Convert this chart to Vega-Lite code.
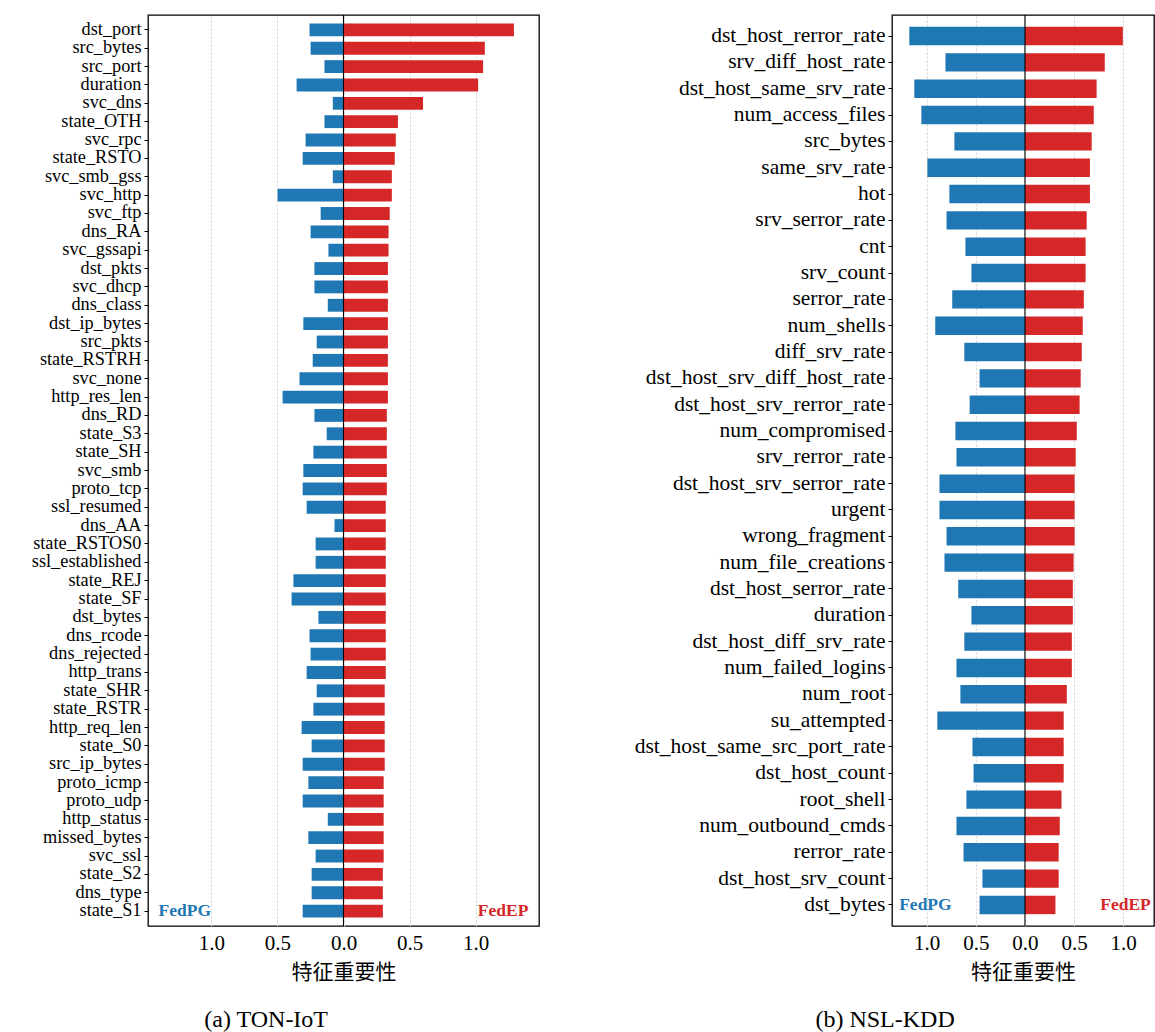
{
  "$schema": "https://vega.github.io/schema/vega-lite/v6.json",
  "padding": {"left": 30, "top": 13, "right": 0, "bottom": 0},
  "autosize": {"type": "pad"},
  "background": "#ffffff",
  "spacing": 93,
  "config": {
    "font": "Liberation Serif",
    "view": {"stroke": "#000000", "strokeWidth": 1.3}
  },
  "datasets": {
    "ton": [
      {"feature": "dst_port", "method": "FedEP", "value": 1.29}, {"feature": "dst_port", "method": "FedPG", "value": -0.257},
      {"feature": "src_bytes", "method": "FedEP", "value": 1.07}, {"feature": "src_bytes", "method": "FedPG", "value": -0.249},
      {"feature": "src_port", "method": "FedEP", "value": 1.057}, {"feature": "src_port", "method": "FedPG", "value": -0.144},
      {"feature": "duration", "method": "FedEP", "value": 1.019}, {"feature": "duration", "method": "FedPG", "value": -0.355},
      {"feature": "svc_dns", "method": "FedEP", "value": 0.602}, {"feature": "svc_dns", "method": "FedPG", "value": -0.081},
      {"feature": "state_OTH", "method": "FedEP", "value": 0.412}, {"feature": "state_OTH", "method": "FedPG", "value": -0.144},
      {"feature": "svc_rpc", "method": "FedEP", "value": 0.396}, {"feature": "svc_rpc", "method": "FedPG", "value": -0.287},
      {"feature": "state_RSTO", "method": "FedEP", "value": 0.388}, {"feature": "state_RSTO", "method": "FedPG", "value": -0.309},
      {"feature": "svc_smb_gss", "method": "FedEP", "value": 0.366}, {"feature": "svc_smb_gss", "method": "FedPG", "value": -0.081},
      {"feature": "svc_http", "method": "FedEP", "value": 0.366}, {"feature": "svc_http", "method": "FedPG", "value": -0.499},
      {"feature": "svc_ftp", "method": "FedEP", "value": 0.35}, {"feature": "svc_ftp", "method": "FedPG", "value": -0.173},
      {"feature": "dns_RA", "method": "FedEP", "value": 0.341}, {"feature": "dns_RA", "method": "FedPG", "value": -0.249},
      {"feature": "svc_gssapi", "method": "FedEP", "value": 0.341}, {"feature": "svc_gssapi", "method": "FedPG", "value": -0.114},
      {"feature": "dst_pkts", "method": "FedEP", "value": 0.336}, {"feature": "dst_pkts", "method": "FedPG", "value": -0.22},
      {"feature": "svc_dhcp", "method": "FedEP", "value": 0.336}, {"feature": "svc_dhcp", "method": "FedPG", "value": -0.22},
      {"feature": "dns_class", "method": "FedEP", "value": 0.336}, {"feature": "dns_class", "method": "FedPG", "value": -0.119},
      {"feature": "dst_ip_bytes", "method": "FedEP", "value": 0.336}, {"feature": "dst_ip_bytes", "method": "FedPG", "value": -0.304},
      {"feature": "src_pkts", "method": "FedEP", "value": 0.336}, {"feature": "src_pkts", "method": "FedPG", "value": -0.203},
      {"feature": "state_RSTRH", "method": "FedEP", "value": 0.336}, {"feature": "state_RSTRH", "method": "FedPG", "value": -0.233},
      {"feature": "svc_none", "method": "FedEP", "value": 0.336}, {"feature": "svc_none", "method": "FedPG", "value": -0.333},
      {"feature": "http_res_len", "method": "FedEP", "value": 0.336}, {"feature": "http_res_len", "method": "FedPG", "value": -0.461},
      {"feature": "dns_RD", "method": "FedEP", "value": 0.328}, {"feature": "dns_RD", "method": "FedPG", "value": -0.22},
      {"feature": "state_S3", "method": "FedEP", "value": 0.328}, {"feature": "state_S3", "method": "FedPG", "value": -0.127},
      {"feature": "state_SH", "method": "FedEP", "value": 0.328}, {"feature": "state_SH", "method": "FedPG", "value": -0.228},
      {"feature": "svc_smb", "method": "FedEP", "value": 0.328}, {"feature": "svc_smb", "method": "FedPG", "value": -0.304},
      {"feature": "proto_tcp", "method": "FedEP", "value": 0.328}, {"feature": "proto_tcp", "method": "FedPG", "value": -0.309},
      {"feature": "ssl_resumed", "method": "FedEP", "value": 0.32}, {"feature": "ssl_resumed", "method": "FedPG", "value": -0.279},
      {"feature": "dns_AA", "method": "FedEP", "value": 0.32}, {"feature": "dns_AA", "method": "FedPG", "value": -0.068},
      {"feature": "state_RSTOS0", "method": "FedEP", "value": 0.32}, {"feature": "state_RSTOS0", "method": "FedPG", "value": -0.211},
      {"feature": "ssl_established", "method": "FedEP", "value": 0.32}, {"feature": "ssl_established", "method": "FedPG", "value": -0.211},
      {"feature": "state_REJ", "method": "FedEP", "value": 0.32}, {"feature": "state_REJ", "method": "FedPG", "value": -0.379},
      {"feature": "state_SF", "method": "FedEP", "value": 0.32}, {"feature": "state_SF", "method": "FedPG", "value": -0.393},
      {"feature": "dst_bytes", "method": "FedEP", "value": 0.32}, {"feature": "dst_bytes", "method": "FedPG", "value": -0.19},
      {"feature": "dns_rcode", "method": "FedEP", "value": 0.32}, {"feature": "dns_rcode", "method": "FedPG", "value": -0.257},
      {"feature": "dns_rejected", "method": "FedEP", "value": 0.32}, {"feature": "dns_rejected", "method": "FedPG", "value": -0.249},
      {"feature": "http_trans", "method": "FedEP", "value": 0.32}, {"feature": "http_trans", "method": "FedPG", "value": -0.279},
      {"feature": "state_SHR", "method": "FedEP", "value": 0.312}, {"feature": "state_SHR", "method": "FedPG", "value": -0.203},
      {"feature": "state_RSTR", "method": "FedEP", "value": 0.312}, {"feature": "state_RSTR", "method": "FedPG", "value": -0.228},
      {"feature": "http_req_len", "method": "FedEP", "value": 0.312}, {"feature": "http_req_len", "method": "FedPG", "value": -0.317},
      {"feature": "state_S0", "method": "FedEP", "value": 0.312}, {"feature": "state_S0", "method": "FedPG", "value": -0.241},
      {"feature": "src_ip_bytes", "method": "FedEP", "value": 0.312}, {"feature": "src_ip_bytes", "method": "FedPG", "value": -0.309},
      {"feature": "proto_icmp", "method": "FedEP", "value": 0.304}, {"feature": "proto_icmp", "method": "FedPG", "value": -0.266},
      {"feature": "proto_udp", "method": "FedEP", "value": 0.304}, {"feature": "proto_udp", "method": "FedPG", "value": -0.309},
      {"feature": "http_status", "method": "FedEP", "value": 0.304}, {"feature": "http_status", "method": "FedPG", "value": -0.119},
      {"feature": "missed_bytes", "method": "FedEP", "value": 0.304}, {"feature": "missed_bytes", "method": "FedPG", "value": -0.266},
      {"feature": "svc_ssl", "method": "FedEP", "value": 0.304}, {"feature": "svc_ssl", "method": "FedPG", "value": -0.211},
      {"feature": "state_S2", "method": "FedEP", "value": 0.298}, {"feature": "state_S2", "method": "FedPG", "value": -0.241},
      {"feature": "dns_type", "method": "FedEP", "value": 0.298}, {"feature": "dns_type", "method": "FedPG", "value": -0.241},
      {"feature": "state_S1", "method": "FedEP", "value": 0.298}, {"feature": "state_S1", "method": "FedPG", "value": -0.309}
    ],
    "nsl": [
      {"feature": "dst_host_rerror_rate", "method": "FedEP", "value": 0.996}, {"feature": "dst_host_rerror_rate", "method": "FedPG", "value": -1.177},
      {"feature": "srv_diff_host_rate", "method": "FedEP", "value": 0.812}, {"feature": "srv_diff_host_rate", "method": "FedPG", "value": -0.809},
      {"feature": "dst_host_same_srv_rate", "method": "FedEP", "value": 0.729}, {"feature": "dst_host_same_srv_rate", "method": "FedPG", "value": -1.126},
      {"feature": "num_access_files", "method": "FedEP", "value": 0.7}, {"feature": "num_access_files", "method": "FedPG", "value": -1.054},
      {"feature": "src_bytes", "method": "FedEP", "value": 0.679}, {"feature": "src_bytes", "method": "FedPG", "value": -0.718},
      {"feature": "same_srv_rate", "method": "FedEP", "value": 0.661}, {"feature": "same_srv_rate", "method": "FedPG", "value": -0.993},
      {"feature": "hot", "method": "FedEP", "value": 0.661}, {"feature": "hot", "method": "FedPG", "value": -0.769},
      {"feature": "srv_serror_rate", "method": "FedEP", "value": 0.628}, {"feature": "srv_serror_rate", "method": "FedPG", "value": -0.798},
      {"feature": "cnt", "method": "FedEP", "value": 0.617}, {"feature": "cnt", "method": "FedPG", "value": -0.606},
      {"feature": "srv_count", "method": "FedEP", "value": 0.617}, {"feature": "srv_count", "method": "FedPG", "value": -0.545},
      {"feature": "serror_rate", "method": "FedEP", "value": 0.599}, {"feature": "serror_rate", "method": "FedPG", "value": -0.74},
      {"feature": "num_shells", "method": "FedEP", "value": 0.588}, {"feature": "num_shells", "method": "FedPG", "value": -0.913},
      {"feature": "diff_srv_rate", "method": "FedEP", "value": 0.578}, {"feature": "diff_srv_rate", "method": "FedPG", "value": -0.617},
      {"feature": "dst_host_srv_diff_host_rate", "method": "FedEP", "value": 0.567}, {"feature": "dst_host_srv_diff_host_rate", "method": "FedPG", "value": -0.462},
      {"feature": "dst_host_srv_rerror_rate", "method": "FedEP", "value": 0.556}, {"feature": "dst_host_srv_rerror_rate", "method": "FedPG", "value": -0.563},
      {"feature": "num_compromised", "method": "FedEP", "value": 0.527}, {"feature": "num_compromised", "method": "FedPG", "value": -0.708},
      {"feature": "srv_rerror_rate", "method": "FedEP", "value": 0.516}, {"feature": "srv_rerror_rate", "method": "FedPG", "value": -0.697},
      {"feature": "dst_host_srv_serror_rate", "method": "FedEP", "value": 0.505}, {"feature": "dst_host_srv_serror_rate", "method": "FedPG", "value": -0.87},
      {"feature": "urgent", "method": "FedEP", "value": 0.505}, {"feature": "urgent", "method": "FedPG", "value": -0.87},
      {"feature": "wrong_fragment", "method": "FedEP", "value": 0.505}, {"feature": "wrong_fragment", "method": "FedPG", "value": -0.798},
      {"feature": "num_file_creations", "method": "FedEP", "value": 0.495}, {"feature": "num_file_creations", "method": "FedPG", "value": -0.819},
      {"feature": "dst_host_serror_rate", "method": "FedEP", "value": 0.487}, {"feature": "dst_host_serror_rate", "method": "FedPG", "value": -0.679},
      {"feature": "duration", "method": "FedEP", "value": 0.487}, {"feature": "duration", "method": "FedPG", "value": -0.545},
      {"feature": "dst_host_diff_srv_rate", "method": "FedEP", "value": 0.477}, {"feature": "dst_host_diff_srv_rate", "method": "FedPG", "value": -0.617},
      {"feature": "num_failed_logins", "method": "FedEP", "value": 0.477}, {"feature": "num_failed_logins", "method": "FedPG", "value": -0.697},
      {"feature": "num_root", "method": "FedEP", "value": 0.426}, {"feature": "num_root", "method": "FedPG", "value": -0.657},
      {"feature": "su_attempted", "method": "FedEP", "value": 0.394}, {"feature": "su_attempted", "method": "FedPG", "value": -0.892},
      {"feature": "dst_host_same_src_port_rate", "method": "FedEP", "value": 0.394}, {"feature": "dst_host_same_src_port_rate", "method": "FedPG", "value": -0.534},
      {"feature": "dst_host_count", "method": "FedEP", "value": 0.394}, {"feature": "dst_host_count", "method": "FedPG", "value": -0.523},
      {"feature": "root_shell", "method": "FedEP", "value": 0.372}, {"feature": "root_shell", "method": "FedPG", "value": -0.596},
      {"feature": "num_outbound_cmds", "method": "FedEP", "value": 0.354}, {"feature": "num_outbound_cmds", "method": "FedPG", "value": -0.697},
      {"feature": "rerror_rate", "method": "FedEP", "value": 0.343}, {"feature": "rerror_rate", "method": "FedPG", "value": -0.625},
      {"feature": "dst_host_srv_count", "method": "FedEP", "value": 0.343}, {"feature": "dst_host_srv_count", "method": "FedPG", "value": -0.433},
      {"feature": "dst_bytes", "method": "FedEP", "value": 0.31}, {"feature": "dst_bytes", "method": "FedPG", "value": -0.462}
    ]
  },
  "hconcat": [
    {
      "width": 391,
      "height": 911,
      "title": {"text": "(a) TON-IoT", "orient": "bottom", "frame": "bounds", "anchor": "middle", "font": "Liberation Serif", "fontSize": 24, "fontWeight": "normal", "color": "#000000", "offset": 26, "dx": -19},
      "layer": [
        {
          "data": {"name": "ton"},
          "mark": {"type": "bar"},
          "encoding": {
            "y": {"field": "feature", "type": "nominal", "sort": null,
              "scale": {"paddingInner": 0.3, "paddingOuter": 0.46},
              "axis": {"title": null, "labelFontSize": 18.3, "labelFont": "Liberation Serif", "labelColor": "#000000", "tickSize": 4, "tickColor": "#000000", "domain": false, "labelPadding": 3, "grid": false, "labelLimit": 400}},
            "x": {"field": "value", "type": "quantitative",
              "scale": {"domain": [-1.48, 1.48], "nice": false, "zero": false},
              "axis": {"title": "特征重要性", "titleFont": "Noto Sans CJK SC", "titleFontSize": 21, "titleFontWeight": "normal", "titleColor": "#000000", "titlePadding": 8,
                "values": [-1, -0.5, 0, 0.5, 1], "labelExpr": "format(abs(datum.value), '.1f')", "labelFontSize": 21, "labelFont": "Liberation Serif", "labelColor": "#000000",
                "ticks": false, "labelPadding": 6, "grid": true, "gridDash": [2, 2], "gridColor": "#d3d3d3", "domain": false}},
            "color": {"field": "method", "type": "nominal", "scale": {"domain": ["FedPG", "FedEP"], "range": ["#1f77b4", "#d62728"]}, "legend": null}
          }
        },
        {
          "data": {"values": [{}]},
          "mark": {"type": "rule", "color": "#000000", "strokeWidth": 1.1},
          "encoding": {"x": {"datum": 0}}
        },
        {
          "data": {"values": [{}]},
          "mark": {"type": "text", "align": "left", "baseline": "middle", "font": "Liberation Serif", "fontWeight": "bold", "fontSize": 17.5, "color": "#1f77b4", "text": "FedPG"},
          "encoding": {"x": {"datum": -1.4}, "y": {"datum": "state_S1"}}
        },
        {
          "data": {"values": [{}]},
          "mark": {"type": "text", "align": "right", "baseline": "middle", "font": "Liberation Serif", "fontWeight": "bold", "fontSize": 17.5, "color": "#d62728", "text": "FedEP"},
          "encoding": {"x": {"datum": 1.4}, "y": {"datum": "state_S1"}}
        }
      ]
    },
    {
      "width": 262,
      "height": 911,
      "title": {"text": "(b) NSL-KDD", "orient": "bottom", "frame": "bounds", "anchor": "middle", "font": "Liberation Serif", "fontSize": 24, "fontWeight": "normal", "color": "#000000", "offset": 26, "dx": -9},
      "layer": [
        {
          "data": {"name": "nsl"},
          "mark": {"type": "bar"},
          "encoding": {
            "y": {"field": "feature", "type": "nominal", "sort": null,
              "scale": {"paddingInner": 0.3, "paddingOuter": 0.45},
              "axis": {"title": null, "labelFontSize": 21.5, "labelFont": "Liberation Serif", "labelColor": "#000000", "tickSize": 4, "tickColor": "#000000", "domain": false, "labelPadding": 3, "grid": false, "labelLimit": 400}},
            "x": {"field": "value", "type": "quantitative",
              "scale": {"domain": [-1.353, 1.313], "nice": false, "zero": false},
              "axis": {"title": "特征重要性", "titleFont": "Noto Sans CJK SC", "titleFontSize": 21, "titleFontWeight": "normal", "titleColor": "#000000", "titlePadding": 8,
                "values": [-1, -0.5, 0, 0.5, 1], "labelExpr": "format(abs(datum.value), '.1f')", "labelFontSize": 21, "labelFont": "Liberation Serif", "labelColor": "#000000",
                "ticks": false, "labelPadding": 6, "grid": true, "gridDash": [2, 2], "gridColor": "#d3d3d3", "domain": false}},
            "color": {"field": "method", "type": "nominal", "scale": {"domain": ["FedPG", "FedEP"], "range": ["#1f77b4", "#d62728"]}, "legend": null}
          }
        },
        {
          "data": {"values": [{}]},
          "mark": {"type": "rule", "color": "#000000", "strokeWidth": 1.1},
          "encoding": {"x": {"datum": 0}}
        },
        {
          "data": {"values": [{}]},
          "mark": {"type": "text", "align": "left", "baseline": "middle", "font": "Liberation Serif", "fontWeight": "bold", "fontSize": 17.5, "color": "#1f77b4", "text": "FedPG"},
          "encoding": {"x": {"datum": -1.28}, "y": {"datum": "dst_bytes"}}
        },
        {
          "data": {"values": [{}]},
          "mark": {"type": "text", "align": "right", "baseline": "middle", "font": "Liberation Serif", "fontWeight": "bold", "fontSize": 17.5, "color": "#d62728", "text": "FedEP"},
          "encoding": {"x": {"datum": 1.28}, "y": {"datum": "dst_bytes"}}
        }
      ]
    }
  ]
}
